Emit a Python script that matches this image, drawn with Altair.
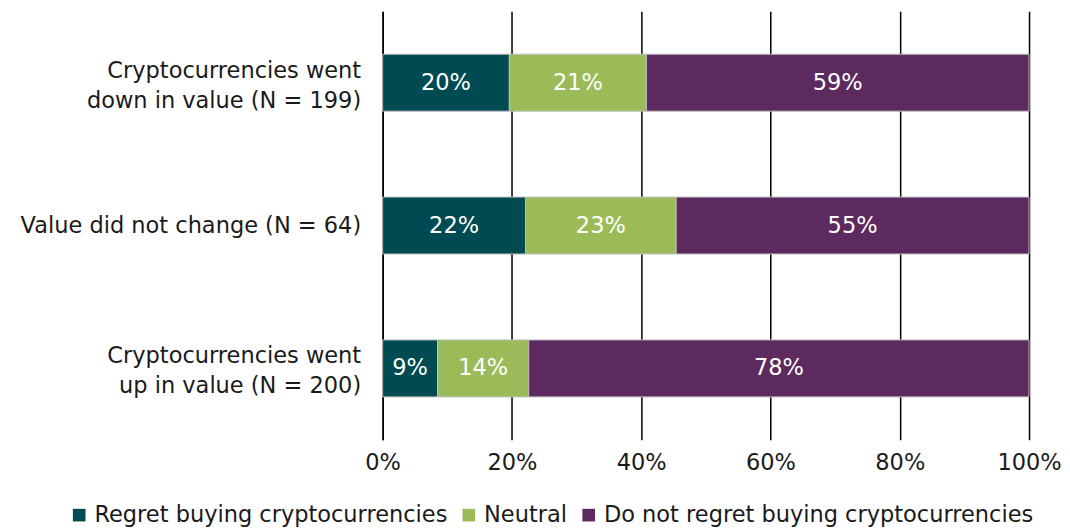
import altair as alt
import pandas as pd

categories = [
    "Cryptocurrencies went\ndown in value (N = 199)",
    "Value did not change (N = 64)",
    "Cryptocurrencies went\nup in value (N = 200)",
]
groups = ["Regret buying cryptocurrencies", "Neutral", "Do not regret buying cryptocurrencies"]
colors = ["#004a52", "#9bbb59", "#5c2a5e"]

regret = [19.6, 22.1, 8.5]
neutral = [21.2, 23.3, 14.1]
not_regret = [59.2, 54.6, 77.4]
labels_regret = ["20%", "22%", "9%"]
labels_neutral = ["21%", "23%", "14%"]
labels_not = ["59%", "55%", "78%"]

rows = []
for i, c in enumerate(categories):
    for k, (vals, labs) in enumerate([(regret, labels_regret), (neutral, labels_neutral), (not_regret, labels_not)]):
        rows.append({"category": c, "group": groups[k], "value": vals[i], "label": labs[i], "order": k})
df = pd.DataFrame(rows)

FONT = "DejaVu Sans"
FS = 22.5

base = alt.Chart(df).transform_stack(
    stack="value", groupby=["category"], as_=["x0", "x1"], sort=[alt.SortField("order")]
).transform_calculate(mid="(datum.x0 + datum.x1) / 2")

y_enc = alt.Y(
    "category:N",
    sort=categories,
    title=None,
    scale=alt.Scale(paddingInner=0, paddingOuter=0),
    axis=alt.Axis(
        labelExpr="split(datum.label, '\\n')",
        labelFont=FONT,
        labelFontSize=FS,
        labelColor="#1a1a1a",
        labelLineHeight=30,
        labelPadding=22,
        labelLimit=400,
        labelOffset={"condition": {"test": "indexof(datum.label, '\\n') >= 0", "value": -12}, "value": 0},
        ticks=False,
        domain=True,
        domainColor="#000000",
        domainWidth=1.5,
        minExtent=370,
        maxExtent=370,
        grid=False,
    ),
)

bars = base.mark_bar(size=57, stroke="#bfbfbf", strokeWidth=1).encode(
    x=alt.X(
        "x0:Q",
        scale=alt.Scale(domain=[0, 100], nice=False),
        title=None,
        axis=alt.Axis(
            values=[0, 20, 40, 60, 80, 100],
            labelExpr="datum.value + '%'",
            labelFont=FONT,
            labelFontSize=FS,
            labelColor="#1a1a1a",
            labelPadding=12,
            labelFlush=False,
            ticks=False,
            domain=False,
            grid=True,
            gridColor="#000000",
            gridWidth=1.5,
        ),
    ),
    x2="x1:Q",
    y=y_enc,
    color=alt.Color(
        "group:N",
        sort=groups,
        scale=alt.Scale(domain=groups, range=colors),
        legend=alt.Legend(
            title=None,
            orient="none",
            legendX=-315,
            legendY=493,
            direction="horizontal",
            symbolType="square",
            symbolSize=160,
            symbolStrokeWidth=0,
            labelFont=FONT,
            labelFontSize=FS,
            labelColor="#1a1a1a",
            labelOffset=4,
            columnPadding=10,
            labelLimit=500,
        ),
    ),
)

texts = base.mark_text(color="white", font=FONT, fontSize=FS).encode(
    x=alt.X("mid:Q"),
    y=alt.Y("category:N", sort=categories),
    text="label:N",
)

chart = (bars + texts).properties(
    width=647,
    height=429,
    padding={"left": 5, "top": 3, "right": 0, "bottom": 0},
).configure_view(stroke=None)

chart.save("out.html", embed_options={"renderer": "svg", "actions": False})
